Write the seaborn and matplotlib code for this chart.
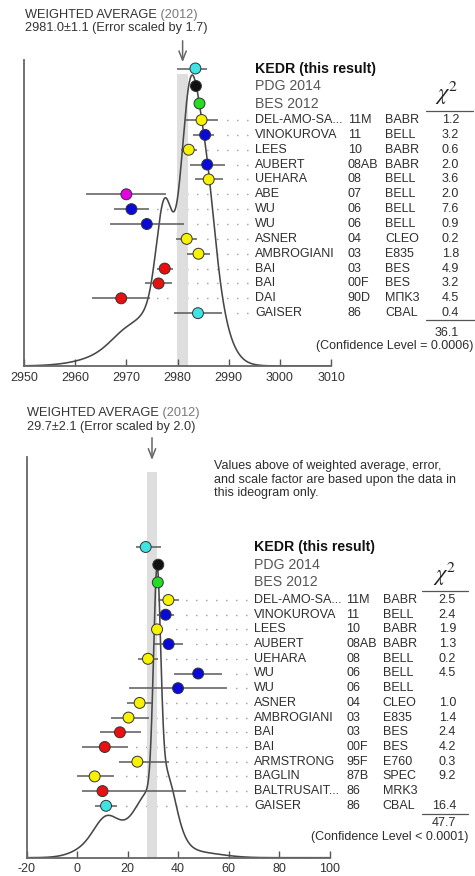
import numpy as np
import pandas as pd
import matplotlib
matplotlib.use("Agg")
import matplotlib.pyplot as plt
import seaborn as sns

sns.set_theme(style="white")
plt.rcParams["font.family"] = ["Liberation Sans", "DejaVu Sans"]
plt.rcParams["mathtext.fontset"] = "stix"

CYAN, BLACK, GREEN = "#3fe3e3", "#111111", "#22dd22"
YELLOW, BLUE, MAGENTA, RED = "#f6f200", "#0a0ad8", "#e600e6", "#e81010"

# ---------------- eta_c mass (MeV) ----------------
mass_ref_label = ["KEDR (this result)", "PDG 2014", "BES 2012"]
mass_ref_val = [2983.5, 2983.6, 2984.3]
mass_ref_lo = [3.6, 0.7, 0.85]
mass_ref_hi = [2.2, 0.7, 0.85]
mass_ref_col = [CYAN, BLACK, GREEN]

mass_author = ["DEL-AMO-SA...", "VINOKUROVA", "LEES", "AUBERT", "UEHARA", "ABE",
               "WU", "WU", "ASNER", "AMBROGIANI", "BAI", "BAI", "DAI", "GAISER"]
mass_year = ["11M", "11", "10", "08AB", "08", "07", "06", "06", "04", "03",
             "03", "00F", "90D", "86"]
mass_exp = ["BABR", "BELL", "BABR", "BABR", "BELL", "BELL", "BELL", "BELL",
            "CLEO", "E835", "BES", "BES", "MПK3", "CBAL"]
mass_val = [2984.7, 2985.4, 2982.2, 2985.8, 2986.1, 2970.0, 2971.0, 2974.0,
            2981.8, 2984.1, 2977.5, 2976.3, 2969.0, 2984.0]
mass_lo = [3.2, 2.3, 1.6, 3.4, 2.7, 7.8, 3.4, 7.2, 2.0, 2.3, 1.55, 2.6, 5.7, 4.6]
mass_hi = [3.2, 1.7, 1.6, 3.4, 2.7, 7.8, 3.4, 7.2, 2.0, 2.3, 1.55, 2.6, 5.7, 4.6]
mass_col = [YELLOW, BLUE, YELLOW, BLUE, YELLOW, MAGENTA, BLUE, BLUE, YELLOW,
            YELLOW, RED, RED, RED, CYAN]
mass_chi2 = [1.2, 3.2, 0.6, 2.0, 3.6, 2.0, 7.6, 0.9, 0.2, 1.8, 4.9, 3.2, 4.5, 0.4]
mass_avg, mass_avg_err, mass_scale = 2981.0, 1.1, 1.7
mass_cl = "= 0.0006"
mass_ticks = [2950, 2960, 2970, 2980, 2990, 3000, 3010]

# ---------------- eta_c width (MeV) ----------------
width_ref_label = ["KEDR (this result)", "PDG 2014", "BES 2012"]
width_ref_val = [27.2, 32.2, 32.0]
width_ref_lo = [4.0, 0.9, 1.6]
width_ref_hi = [6.2, 0.9, 1.6]
width_ref_col = [CYAN, BLACK, GREEN]

width_author = ["DEL-AMO-SA...", "VINOKUROVA", "LEES", "AUBERT", "UEHARA", "WU",
                "WU", "ASNER", "AMBROGIANI", "BAI", "BAI", "ARMSTRONG", "BAGLIN",
                "BALTRUSAIT...", "GAISER"]
width_year = ["11M", "11", "10", "08AB", "08", "06", "06", "04", "03", "03",
              "00F", "95F", "87B", "86", "86"]
width_exp = ["BABR", "BELL", "BABR", "BABR", "BELL", "BELL", "BELL", "CLEO",
             "E835", "BES", "BES", "E760", "SPEC", "MRK3", "CBAL"]
width_val = [36.2, 35.1, 31.7, 36.3, 28.1, 48.0, 40.0, 24.8, 20.4, 17.0, 11.0,
             23.9, 7.0, 10.1, 11.5]
width_lo = [4.1, 3.5, 1.4, 5.7, 3.9, 9.4, 19.6, 4.9, 7.0, 8.0, 9.1, 7.1, 7.0, 8.2, 4.5]
width_hi = [4.1, 3.3, 1.4, 5.8, 3.9, 9.4, 19.6, 4.9, 8.0, 8.3, 9.1, 12.6, 7.5, 33.0, 4.5]
width_col = [YELLOW, BLUE, YELLOW, BLUE, YELLOW, BLUE, BLUE, YELLOW, YELLOW, RED,
             RED, YELLOW, YELLOW, RED, CYAN]
width_chi2 = [2.5, 2.4, 1.9, 1.3, 0.2, 4.5, None, 1.0, 1.4, 2.4, 4.2, 0.3, 9.2,
              None, 16.4]
width_avg, width_avg_err, width_scale = 29.7, 2.1, 2.0
width_cl = "< 0.0001"
width_ticks = [-20, 0, 20, 40, 60, 80, 100]

note_lines = ["Values above of weighted average, error,",
              "and scale factor are based upon the data in",
              "this ideogram only."]

# ---------------- figure ----------------
W, H = 475, 876
fig = plt.figure(figsize=(W / 100, H / 100), dpi=100)
fig.patch.set_facecolor("white")
TXT = "#2e2e2e"


def ideogram(grid, val, lo, hi):
    """Sum of Gaussians, area proportional to 1/sigma."""
    total = np.zeros_like(grid)
    for v, l, h in zip(val, lo, hi):
        s = np.where(grid < v, l, h)
        sig = 0.5 * (l + h)
        total += np.exp(-0.5 * ((grid - v) / s) ** 2) / sig ** 2
    return total


def panel(d, lay):
    left, right, top, base = lay["left"], lay["right"], lay["top"], lay["base"]
    ax = fig.add_axes([left / W, 1 - base / H, (right - left) / W, (base - top) / H])
    ax.set_facecolor("none")
    x0, x1 = d["ticks"][0], d["ticks"][-1]
    ppu = (right - left) / (x1 - x0)

    def to_data(px):
        return x0 + (px - left) / ppu

    n_ref = len(d["ref_val"])
    ref_y = [lay["ref_y0"] + i * lay["ref_step"] for i in range(n_ref)]
    row_y = [lay["row_y0"] + j * lay["row_step"] for j in range(len(d["val"]))]

    # weighted-average band and arrow
    lo_b, hi_b = d["avg"] - d["avg_err"], d["avg"] + d["avg_err"]
    ax.fill_betweenx([lay["band_top"], base], lo_b, hi_b, color="#dedede", lw=0, zorder=0.5)
    ax.annotate("", xy=(d["avg"], lay["arrow"][1]), xytext=(d["avg"], lay["arrow"][0]),
                arrowprops=dict(arrowstyle="->,head_length=0.55,head_width=0.22",
                                color="#666666", lw=1.1),
                annotation_clip=False)

    # dotted guide lines from each measurement to its label
    for v, h, y in zip(d["val"], d["hi"], row_y):
        ax.plot([to_data(lay["dots_end"]), v + h + 6 / ppu], [y, y],
                ls=(0, (1, 6.2)), color="#9a9a9a", lw=1, clip_on=False, zorder=0.4)

    # ideogram curve from the measurements used in the average
    used = [i for i, c in enumerate(d["chi2"]) if c is not None]
    grid = np.linspace(x0, x1, 1200)
    f = ideogram(grid, [d["val"][i] for i in used], [d["lo"][i] for i in used],
                 [d["hi"][i] for i in used])
    curve_y = base - (base - lay["peak_y"]) * f / f.max()
    sns.lineplot(x=grid, y=curve_y, ax=ax, color="#474747", lw=1.15,
                 sort=False, estimator=None, zorder=2)

    # error bars
    all_val = list(d["ref_val"]) + list(d["val"])
    all_lo = list(d["ref_lo"]) + list(d["lo"])
    all_hi = list(d["ref_hi"]) + list(d["hi"])
    all_y = ref_y + row_y
    all_col = list(d["ref_col"]) + list(d["col"])
    ax.hlines(all_y, np.array(all_val) - np.array(all_lo),
              np.array(all_val) + np.array(all_hi), color="#5a5a5a", lw=1.1, zorder=3)

    df = pd.DataFrame({"value": all_val, "y": all_y, "color": all_col})
    sns.scatterplot(data=df, x="value", y="y", hue="color",
                    palette={c: c for c in set(all_col)}, s=62,
                    edgecolor="#333333", linewidth=0.7, legend=False, ax=ax, zorder=5)

    ax.set_xlim(x0, x1)
    ax.set_ylim(base, top)
    ax.set_xlabel("")
    ax.set_ylabel("")
    ax.set_yticks([])
    ax.set_xticks(d["ticks"])
    ax.set_xticklabels([str(t) for t in d["ticks"]])
    ax.tick_params(axis="x", bottom=True, direction="in", length=5, width=1,
                   color="#555555", labelsize=9, labelcolor="#333333", pad=4)
    sns.despine(ax=ax)
    for s in ("left", "bottom"):
        ax.spines[s].set_color("#666666")
        ax.spines[s].set_linewidth(1.3)

    # texts on a pixel-coordinate overlay
    t = txt_ax
    tx, ty = lay["title"]
    t1 = t.text(tx, ty, "WEIGHTED AVERAGE", fontsize=9.2, color="#333333",
                ha="left", va="center")
    t.annotate(" (2012)", xy=(1, 0.5), xycoords=t1, fontsize=9.2, color="#777777",
               ha="left", va="center")
    t.text(tx, ty + lay["title_step"],
           f"{d['avg']:.1f}\u00b1{d['avg_err']:.1f} (Error scaled by {d['scale']:.1f})",
           fontsize=9.2, color="#333333", ha="left", va="center")

    for i, (lab, y) in enumerate(zip(d["ref_label"], ref_y)):
        t.text(lay["name_x"], y, lab, fontsize=10.2, ha="left", va="center",
               color="#111111" if i == 0 else "#555555",
               fontweight="bold" if i == 0 else "normal")

    for a, yr, ex, c2, y in zip(d["author"], d["year"], d["exp"], d["chi2"], row_y):
        t.text(lay["name_x"], y, a, fontsize=9, color=TXT, ha="left", va="center")
        t.text(lay["year_x"], y, yr, fontsize=9, color=TXT, ha="left", va="center")
        t.text(lay["exp_x"], y, ex, fontsize=9, color=TXT, ha="left", va="center")
        if c2 is not None:
            t.text(lay["chi_right"], y, f"{c2:.1f}", fontsize=9, color=TXT,
                   ha="right", va="center")

    cx, cy = lay["chi_head"]
    t.text(cx, cy, r"$\chi^2$", fontsize=16, color="#222222", ha="center", va="bottom")
    l0, l1, ly = lay["chi_line"]
    t.plot([l0, l1], [ly, ly], color="#555555", lw=0.9)
    s0, s1, sy = lay["sum_line"]
    t.plot([s0, s1], [sy, sy], color="#555555", lw=0.9)
    total = sum(c for c in d["chi2"] if c is not None)
    t.text(lay["chi_right"], lay["sum_y"], f"{total:.1f}", fontsize=9, color=TXT,
           ha="right", va="center")
    t.text(lay["cl"][0], lay["cl"][1], f"(Confidence Level {d['cl']})", fontsize=9,
           color=TXT, ha="right", va="center")
    return ax


txt_ax = fig.add_axes([0, 0, 1, 1], zorder=10)
txt_ax.set_xlim(0, W)
txt_ax.set_ylim(H, 0)
txt_ax.axis("off")
txt_ax.patch.set_visible(False)

mass = dict(ref_label=mass_ref_label, ref_val=mass_ref_val, ref_lo=mass_ref_lo,
            ref_hi=mass_ref_hi, ref_col=mass_ref_col, author=mass_author,
            year=mass_year, exp=mass_exp, val=mass_val, lo=mass_lo, hi=mass_hi,
            col=mass_col, chi2=mass_chi2, avg=mass_avg, avg_err=mass_avg_err,
            scale=mass_scale, cl=mass_cl, ticks=mass_ticks)
width = dict(ref_label=width_ref_label, ref_val=width_ref_val, ref_lo=width_ref_lo,
             ref_hi=width_ref_hi, ref_col=width_ref_col, author=width_author,
             year=width_year, exp=width_exp, val=width_val, lo=width_lo, hi=width_hi,
             col=width_col, chi2=width_chi2, avg=width_avg, avg_err=width_avg_err,
             scale=width_scale, cl=width_cl, ticks=width_ticks)

layout_top = dict(left=24, right=331, top=60, base=366, title=(25, 15), title_step=13.5,
                  arrow=(38, 65), band_top=74, ref_y0=68.5, ref_step=17.5,
                  row_y0=120, row_step=14.86, name_x=255, year_x=347.7, exp_x=385,
                  chi_right=459, chi_head=(447, 107.5), chi_line=(425.7, 473, 110.7),
                  sum_line=(425.7, 475, 319.5), sum_y=333, cl=(473, 346.5),
                  dots_end=248, peak_y=75)
layout_bottom = dict(left=26.5, right=329.5, top=456.7, base=857.7, title=(26.7, 413),
                     title_step=14, arrow=(435, 462.7), band_top=471.7, ref_y0=547,
                     ref_step=17.7, row_y0=600, row_step=14.7, name_x=254,
                     year_x=346.5, exp_x=382.7, chi_right=456, chi_head=(445, 587.5),
                     chi_line=(422, 468, 590.7), sum_line=(422, 468, 813.5), sum_y=823.5,
                     cl=(468.3, 836.7), dots_end=247, peak_y=566)

panel(mass, layout_top)
panel(width, layout_bottom)

for k, line in enumerate(note_lines):
    txt_ax.text(214, 466 + k * 13.6, line, fontsize=9, color=TXT, ha="left", va="center")

fig.savefig("out.png", dpi=100, facecolor="white")
